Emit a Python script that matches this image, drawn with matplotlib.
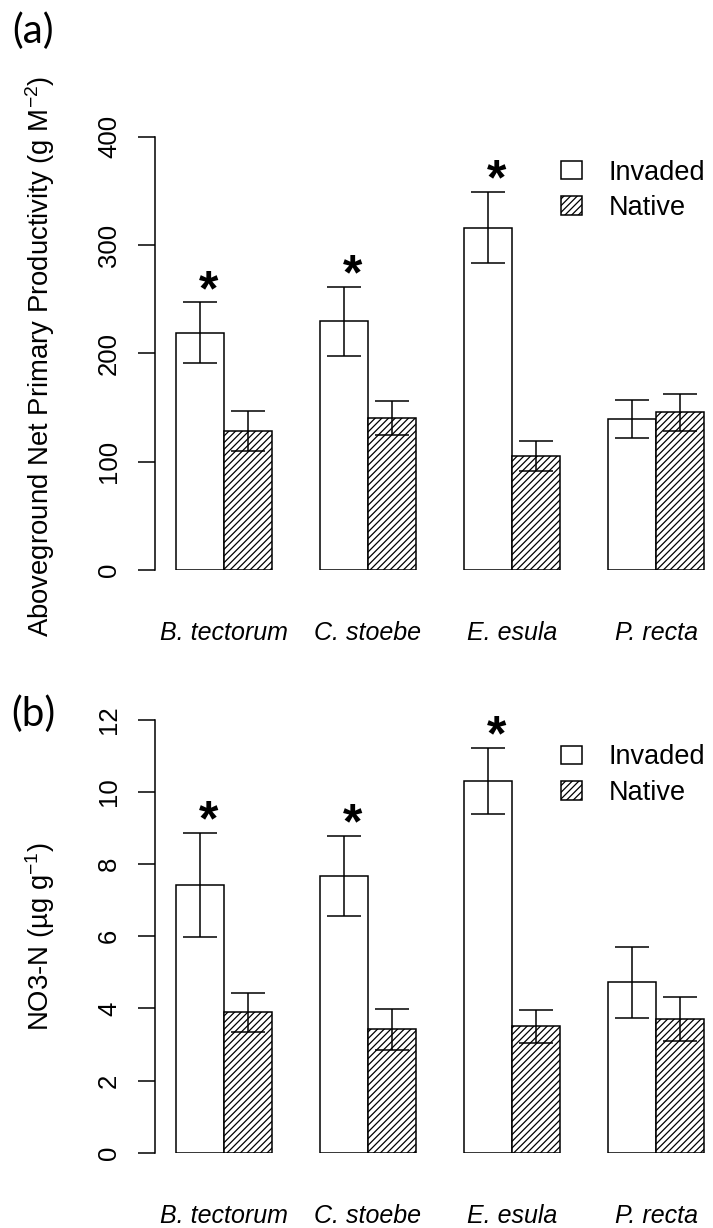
import matplotlib.pyplot as plt
import numpy as np

# species and group means / standard errors
species = ['B. tectorum', 'C. stoebe', 'E. esula', 'P. recta']
groups = ['Invaded', 'Native']

anpp_invaded = [219.0, 229.5, 316.0, 139.5]
anpp_invaded_se = [28.0, 32.0, 33.0, 17.7]
anpp_native = [128.3, 140.3, 105.2, 145.4]
anpp_native_se = [18.6, 15.4, 13.5, 17.5]

no3_invaded = [7.42, 7.68, 10.30, 4.72]
no3_invaded_se = [1.44, 1.11, 0.92, 0.98]
no3_native = [3.89, 3.42, 3.50, 3.70]
no3_native_se = [0.53, 0.57, 0.45, 0.61]

signif = [True, True, True, False]

anpp_ticks = [0, 100, 200, 300, 400]
no3_ticks = [0, 2, 4, 6, 8, 10, 12]

plt.rcParams['font.family'] = ['Liberation Sans', 'DejaVu Sans']
plt.rcParams['mathtext.fontset'] = 'custom'
plt.rcParams['mathtext.rm'] = 'Liberation Sans'
plt.rcParams['mathtext.it'] = 'Liberation Sans:italic'
plt.rcParams['hatch.linewidth'] = 0.9

W, H = 713, 1228
fig = plt.figure(figsize=(W / 100, H / 100), dpi=100)

LW = 1.1
n = len(species)
x_inv = np.arange(n) * 3 + 1.5
x_nat = np.arange(n) * 3 + 2.5
x_mid = np.arange(n) * 3 + 2.0


def add_axes_px(left, top, right, bottom):
    return fig.add_axes([left / W, 1 - bottom / H, (right - left) / W, (bottom - top) / H])


def panel(ax, inv, inv_se, nat, nat_se, ymax, ticks, ylabel, ylab_y, tag, tag_y, leg_y):
    b1 = ax.bar(x_inv, inv, width=1, color='white', edgecolor='black', linewidth=LW)
    b2 = ax.bar(x_nat, nat, width=1, color='white', edgecolor='black', linewidth=LW, hatch='/////')
    for xs, ys, es in [(x_inv, inv, inv_se), (x_nat, nat, nat_se)]:
        ax.errorbar(xs, ys, yerr=es, fmt='none', ecolor='black', elinewidth=LW,
                    capsize=12.5, capthick=LW)
    for i in range(n):
        if signif[i]:
            ax.annotate('*', xy=(x_inv[i], inv[i] + inv_se[i]), xytext=(6.5, -1.8),
                        textcoords='offset points', ha='center', va='baseline',
                        fontsize=36, fontweight='bold', annotation_clip=False)

    ax.set_xlim(0.5625, 0.5625 + 558 / 48)
    ax.set_ylim(0, ymax)
    for s in ['top', 'right', 'bottom']:
        ax.spines[s].set_visible(False)
    ax.spines['left'].set_linewidth(LW)
    ax.spines['left'].set_bounds(ticks[0], ticks[-1])
    ax.set_yticks(ticks)
    ax.set_yticklabels([str(t) for t in ticks], rotation=90, va='center')
    ax.tick_params(axis='y', length=12.2, width=LW, pad=12.3, labelsize=18.5)
    ax.set_xticks(x_mid)
    ax.set_xticklabels(species, fontstyle='italic')
    ax.tick_params(axis='x', length=0, pad=37, labelsize=18)

    ax.legend([b1, b2], groups, loc='upper left', bbox_to_anchor=(0.728, leg_y),
              frameon=False, fontsize=19.5, handlelength=0.78, handleheight=0.67,
              handletextpad=0.96, labelspacing=0.35, borderpad=0, borderaxespad=0)

    fig.text(40 / W, 1 - ylab_y / H, ylabel, rotation=90, ha='center', va='center', fontsize=19.8)
    fig.text(33 / W, 1 - tag_y / H, tag, family=['Lato', 'DejaVu Sans'],
             fontsize=29, ha='center', va='center')


ax1 = add_axes_px(155, 100, 713, 570)
panel(ax1, anpp_invaded, anpp_invaded_se, anpp_native, anpp_native_se,
      470 / 1.0833, anpp_ticks, 'Aboveground Net Primary Productivity (g M$^{-2}$)', 356,
      '(a)', 31, 0.873)

ax2 = add_axes_px(155, 690, 713, 1152.7)
panel(ax2, no3_invaded, no3_invaded_se, no3_native, no3_native_se,
      462.7 / 36.06, no3_ticks, 'NO3-N (µg g$^{-1}$)', 937, '(b)', 714, 0.8825)

fig.savefig('out.png', dpi=100)
